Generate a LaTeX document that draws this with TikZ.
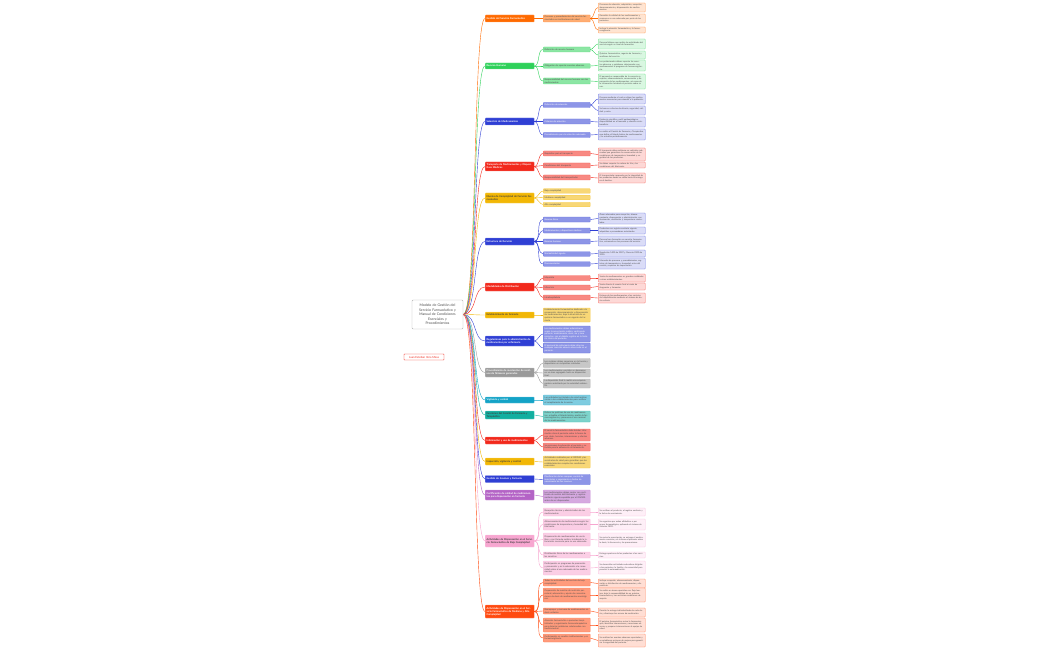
\documentclass[tikz,border=0pt]{standalone}
\usepackage{fontspec}
\setmainfont{Lato}
\usepackage{xcolor}
\definecolor{colorOrange}{HTML}{FF6A00}
\definecolor{colorGreen}{HTML}{2ED15A}
\definecolor{colorBlue}{HTML}{2F3FD4}
\definecolor{colorRed}{HTML}{F2291C}
\definecolor{colorGold}{HTML}{F2B705}
\definecolor{colorGray}{HTML}{9A9A9A}
\definecolor{colorCyan}{HTML}{14A3C7}
\definecolor{colorTeal}{HTML}{12AFA0}
\definecolor{colorPurple}{HTML}{B463C6}
\definecolor{colorPink}{HTML}{F7A6D0}
\definecolor{colorFlame}{HTML}{FF4A10}
\usepackage{tikz}
\tikzset{
  root/.style={draw=black!30, fill=white, rounded corners=1pt, align=center, text width=49pt, inner xsep=1pt, minimum height=29pt, text=black!70, font=\fontsize{3.5}{4.5}\selectfont},
  tag/.style={draw=colorRed, fill=white, text=colorRed, rounded corners=0.5pt, minimum width=40pt, minimum height=6pt, inner sep=0.5pt, font=\fontsize{2.8}{3.2}\selectfont},
  topic/.style={anchor=west, fill=#1, draw=#1!60, line width=0.3pt, rounded corners=0.6pt, text width=46pt, inner xsep=1.5pt, inner ysep=0.6pt, align=left, text=white, font=\fontsize{2.5}{3}\selectfont\bfseries},
  sub/.style={anchor=west, fill=#1!55, draw=#1!75, line width=0.3pt, rounded corners=0.6pt, text width=44pt, inner xsep=1.5pt, inner ysep=0.6pt, align=left, text=black!70, font=\fontsize{2.2}{2.6}\selectfont},
  leaf/.style={sub=#1, fill=#1!18, font=\fontsize{2.1}{2.5}\selectfont},
  link/.style={draw=#1, line width=0.4pt},
  twig/.style={out=0, in=180, looseness=0.8},
}
\begin{document}
\begin{tikzpicture}[x=1pt, y=-1pt]
\useasboundingbox (0,0) rectangle (1050,650);

\node[root] (r) at (437.5,314.5) {Modelo de Gestión del\\Servicio Farmacéutico y\\Manual de Condiciones\\Esenciales y\\Procedimientos};
\node[tag] (who) at (424,357) {Juan Esteban Vera Mesa};

% Gestion del servicio
\node[topic=colorOrange, minimum height=7pt] (b1) at (485,18.5) {Gestión del Servicio Farmacéutico};
\node[sub=colorOrange, minimum height=7pt] (b1c1) at (543,18.5) {Procesos y procedimientos del servicio farmacéutico en instituciones de salud};
\node[leaf=colorOrange, minimum height=9pt] (b1g1) at (598,7.5) {Procesos de selección, adquisición, recepción, almacenamiento y dispensación de medicamentos.};
\node[leaf=colorOrange, minimum height=9pt] (b1g2) at (598,18.5) {Garantiza la calidad de los medicamentos y promueve su uso adecuado por parte de los pacientes.};
\node[leaf=colorOrange, minimum height=6pt] (b1g3) at (598,30) {Incluye la atención farmacéutica y la farmacovigilancia.};

% Recurso humano
\node[topic=colorGreen, minimum height=6pt] (b2) at (485,66) {Recurso Humano};
\node[sub=colorGreen, minimum height=5pt] (b2c1) at (543,49.5) {Definición de recurso humano};
\node[sub=colorGreen, minimum height=4.5pt] (b2c2) at (543,66) {Obligación de reportar eventos adversos};
\node[sub=colorGreen, minimum height=6pt] (b2c3) at (543,81) {Responsabilidad del recurso humano con los medicamentos};
\node[leaf=colorGreen, minimum height=10pt] (b2g1) at (598,44) {Personal idóneo que realiza las actividades del servicio según su nivel de formación.};
\node[leaf=colorGreen, minimum height=8pt] (b2g2) at (598,55) {Químico farmacéutico, regente de farmacia y auxiliares del servicio.};
\node[leaf=colorGreen, minimum height=11pt] (b2g3) at (598,65.5) {Los profesionales deben reportar los eventos adversos y problemas relacionados con medicamentos al programa de farmacovigilancia.};
\node[leaf=colorGreen, minimum height=15pt] (b2g4) at (598,81.5) {El personal es responsable de la correcta recepción, almacenamiento, conservación y dispensación de los medicamentos, así como de la información brindada al paciente sobre su uso.};

% Seleccion
\node[topic=colorBlue, minimum height=7pt] (b3) at (485,121.5) {Selección de Medicamentos};
\node[sub=colorBlue, text=white, minimum height=5pt] (b3c1) at (543,105) {Definición de selección};
\node[sub=colorBlue, text=white, minimum height=5pt] (b3c2) at (543,121.5) {Criterios de selección};
\node[sub=colorBlue, text=white, minimum height=5pt] (b3c3) at (543,135) {Procedimiento para la selección adecuada};
\node[leaf=colorBlue, minimum height=10pt] (b3g1) at (598,99) {Proceso mediante el cual se eligen los medicamentos necesarios para atender a la población.};
\node[leaf=colorBlue, minimum height=9pt] (b3g2) at (598,110.5) {Se basa en criterios de eficacia, seguridad, calidad y costo.};
\node[leaf=colorBlue, minimum height=10pt] (b3g3) at (598,122) {Evidencia científica, perfil epidemiológico, disponibilidad en el mercado y relación costo-beneficio.};
\node[leaf=colorBlue, minimum height=11pt] (b3g4) at (598,134.5) {Lo realiza el Comité de Farmacia y Terapéutica, que define el listado básico de medicamentos y lo actualiza periódicamente.};

% Transporte
\node[topic=colorRed, minimum height=9pt] (b4) at (485,166.5) {Transporte de Medicamentos y Dispositivos Médicos};
\node[sub=colorRed, minimum height=5pt] (b4c1) at (543,153.5) {Requisitos para el transporte};
\node[sub=colorRed, minimum height=5pt] (b4c2) at (543,165.5) {Condiciones del transporte};
\node[sub=colorRed, minimum height=5pt] (b4c3) at (543,177.5) {Responsabilidad del transportador};
\node[leaf=colorRed, minimum height=13pt] (b4g1) at (598,154.5) {El transporte debe realizarse en vehículos adecuados que garanticen la conservación de las condiciones de temperatura, humedad y seguridad de los productos.};
\node[leaf=colorRed, minimum height=6pt] (b4g2) at (598,165) {Se deben respetar la cadena de frío y las condiciones del fabricante.};
\node[leaf=colorRed, minimum height=10pt] (b4g3) at (598,178) {El transportador responde por la integridad de los productos desde su salida hasta la entrega en el destino.};

% Niveles de complejidad
\node[topic=colorGold, text=black!75, minimum height=10pt] (b5) at (485,198) {Niveles de Complejidad del Servicio Farmacéutico};
\node[sub=colorGold, minimum height=4.5pt] (b5c1) at (543,191) {Baja complejidad};
\node[sub=colorGold, minimum height=4.5pt] (b5c2) at (543,197.5) {Mediana complejidad};
\node[sub=colorGold, minimum height=4.5pt] (b5c3) at (543,204.5) {Alta complejidad};

% Estructura
\node[topic=colorBlue, minimum height=7pt] (b6) at (485,241.5) {Estructura del Servicio};
\node[sub=colorBlue, text=white, minimum height=5pt] (b6c1) at (543,219.5) {Recurso físico};
\node[sub=colorBlue, text=white, minimum height=5pt] (b6c2) at (543,230.5) {Medicamentos y dispositivos médicos};
\node[sub=colorBlue, text=white, minimum height=5pt] (b6c3) at (543,241.5) {Recurso humano};
\node[sub=colorBlue, text=white, minimum height=4.5pt] (b6c4) at (543,254) {Normatividad vigente};
\node[sub=colorBlue, text=white, minimum height=4.5pt] (b6c5) at (543,264) {Documentación};
\node[leaf=colorBlue, minimum height=11pt] (b6g1) at (598,218.5) {Áreas adecuadas para recepción, almacenamiento, dispensación y administración, con iluminación, ventilación y temperatura controladas.};
\node[leaf=colorBlue, minimum height=7pt] (b6g2) at (598,230.5) {Productos con registro sanitario vigente, adquiridos a proveedores autorizados.};
\node[leaf=colorBlue, minimum height=10pt] (b6g3) at (598,241) {Personal con formación en servicio farmacéutico, entrenado en los procesos del servicio.};
\node[leaf=colorBlue, minimum height=7pt] (b6g4) at (598,253.5) {Resolución 1403 de 2007 y Decreto 2200 de 2005.};
\node[leaf=colorBlue, minimum height=11pt] (b6g5) at (598,263.5) {Manuales de procesos y procedimientos, registros de temperatura y humedad, actas del comité y soportes de capacitación.};

% Distribucion
\node[topic=colorRed, minimum height=8pt] (b7) at (485,287) {Modalidades de Distribución};
\node[sub=colorRed, minimum height=5pt] (b7c1) at (543,278) {Mayorista};
\node[sub=colorRed, minimum height=5pt] (b7c2) at (543,287.5) {Minorista};
\node[sub=colorRed, minimum height=5pt] (b7c3) at (543,297.5) {Intrahospitalaria};
\node[leaf=colorRed, minimum height=8pt] (b7g1) at (598,278) {Venta de medicamentos en grandes cantidades a otros establecimientos.};
\node[leaf=colorRed, minimum height=7pt] (b7g2) at (598,286.5) {Venta directa al usuario final a través de droguerías y farmacias.};
\node[leaf=colorRed, minimum height=10pt] (b7g3) at (598,298) {Entrega de los medicamentos a los servicios de hospitalización mediante el sistema de dosis unitaria.};

% Farmacia
\node[topic=colorGold, text=black!75, minimum height=6pt] (b8) at (485,315) {Establecimiento de farmacia};
\node[sub=colorGold, minimum height=14pt] (b8c1) at (543,315) {Establecimiento farmacéutico dedicado a la preparación, almacenamiento y dispensación de medicamentos, bajo la dirección de un químico farmacéutico o un regente de farmacia.};

% Administracion
\node[topic=colorBlue, minimum height=10pt] (b9) at (485,341) {Regulaciones para la administración de medicamentos por enfermería};
\node[sub=colorBlue, text=white, minimum height=16pt] (b9c1) at (543,334) {Los medicamentos deben administrarse según la prescripción médica, verificando paciente, medicamento, dosis, vía y hora correctos, con el debido registro en la historia clínica del paciente.};
\node[sub=colorBlue, text=white, minimum height=10pt] (b9c2) at (543,348) {El personal de enfermería debe informar cualquier reacción adversa observada en el paciente.};

% Residuos
\node[topic=colorGray, minimum height=9pt] (b10) at (485,372.5) {Procedimiento de recolección de residuos de fármacos generados};
\node[sub=colorGray, minimum height=9pt] (b10c1) at (543,363) {Los residuos deben separarse en la fuente y depositarse en recipientes rotulados.};
\node[sub=colorGray, minimum height=8pt] (b10c2) at (543,373) {Los medicamentos vencidos se almacenan en un área segregada hasta su disposición final.};
\node[sub=colorGray, minimum height=9pt] (b10c3) at (543,383.5) {La disposición final la realiza una empresa gestora autorizada por la autoridad ambiental.};

% Vigilancia
\node[topic=colorCyan, minimum height=6pt] (b11) at (485,400) {Vigilancia y control};
\node[sub=colorCyan, minimum height=10pt] (b11c1) at (543,400) {Las entidades territoriales de salud realizan visitas a los establecimientos para verificar el cumplimiento de la norma.};

% Comite
\node[topic=colorTeal, text=black!75, minimum height=8pt] (b12) at (485,415) {Funciones del Comité de Farmacia y Terapéutica};
\node[sub=colorTeal, minimum height=11pt] (b12c1) at (543,416.5) {Define las políticas de uso de medicamentos, actualiza el listado básico, analiza la farmacovigilancia y promueve el uso racional de los medicamentos.};

% Informacion
\node[topic=colorRed, minimum height=7pt] (b13) at (485,440.5) {Información y uso de medicamentos};
\node[sub=colorRed, minimum height=12pt] (b13c1) at (543,435) {El servicio farmacéutico debe brindar información clara al paciente sobre la forma de uso, dosis, horarios, interacciones y efectos adversos.};
\node[sub=colorRed, minimum height=8pt] (b13c2) at (543,447) {Se promueve la educación al paciente y su familia para la adherencia al tratamiento.};

% Inspeccion
\node[topic=colorGold, text=black!75, minimum height=7pt] (b14) at (485,461.5) {Inspección, vigilancia y control};
\node[sub=colorGold, minimum height=12pt] (b14c1) at (543,462) {Actividades realizadas por el INVIMA y las secretarías de salud para garantizar que los establecimientos cumplan las condiciones esenciales.};

% Insumos
\node[topic=colorBlue, minimum height=7pt] (b15) at (485,479) {Gestión de Insumos y Farmacia};
\node[sub=colorBlue, text=white, minimum height=10pt] (b15c1) at (543,479.5) {Planificación de las compras, control de inventarios y seguimiento a fechas de vencimiento de los insumos.};

% Certificacion
\node[topic=colorPurple, minimum height=10pt] (b16) at (485,495) {Certificación de calidad de medicamentos para dispensación en farmacia};
\node[sub=colorPurple, minimum height=13pt] (b16c1) at (543,496.5) {Los medicamentos deben contar con certificado de análisis del fabricante y registro sanitario vigente expedido por el INVIMA antes de ser dispensados.};

% Baja complejidad
\node[topic=colorPink, text=black!75, minimum height=12pt] (b17) at (485,541) {Actividades de Dispensación en el Servicio Farmacéutico de Baja Complejidad};
\node[sub=colorPink, minimum height=8pt] (b17c1) at (543,512) {Recepción técnica y administrativa de los medicamentos.};
\node[sub=colorPink, minimum height=11pt] (b17c2) at (543,524.5) {Almacenamiento de medicamentos según las condiciones de temperatura y humedad del fabricante.};
\node[sub=colorPink, minimum height=13pt] (b17c3) at (543,539.5) {Dispensación de medicamentos de venta libre y con fórmula médica, brindando la información necesaria para su uso adecuado.};
\node[sub=colorPink, minimum height=6pt] (b17c4) at (543,555) {Distribución física de los medicamentos a los servicios.};
\node[sub=colorPink, minimum height=14pt] (b17c5) at (543,568) {Participación en programas de promoción y prevención y en la educación a la comunidad sobre el uso adecuado de los medicamentos.};
\node[leaf=colorPink, minimum height=8pt] (b17g1) at (598,512) {Se verifican el producto, el registro sanitario y la fecha de vencimiento.};
\node[leaf=colorPink, minimum height=11pt] (b17g2) at (598,524.5) {Se organizan por orden alfabético o por grupo farmacológico, aplicando el sistema de rotación FEFO.};
\node[leaf=colorPink, minimum height=14pt] (b17g3) at (598,540) {Se revisa la prescripción, se entrega el medicamento correcto y se informa al paciente sobre la dosis, la frecuencia y las precauciones.};
\node[leaf=colorPink, minimum height=6pt] (b17g4) at (598,555) {Entrega oportuna de los productos a los servicios.};
\node[leaf=colorPink, minimum height=13pt] (b17g5) at (598,567.5) {Se desarrollan actividades educativas dirigidas a los pacientes, la familia y la comunidad para prevenir la automedicación.};

% Mediana y alta complejidad
\node[topic=colorFlame, minimum height=13pt] (b18) at (485,611.5) {Actividades de Dispensación en el Servicio Farmacéutico de Mediana y Alta Complejidad};
\node[sub=colorFlame, minimum height=7pt] (b18c1) at (543,582.5) {Todas las actividades del servicio de baja complejidad.};
\node[sub=colorFlame, minimum height=14pt] (b18c2) at (543,595) {Preparación de mezclas de nutrición parenteral, adecuación y ajuste de concentraciones de dosis de medicamentos oncológicos.};
\node[sub=colorFlame, minimum height=6pt] (b18c3) at (543,611) {Reempaque y reenvase de medicamentos en dosis unitarias.};
\node[sub=colorFlame, minimum height=14pt] (b18c4) at (543,625) {Atención farmacéutica a pacientes hospitalizados y seguimiento farmacoterapéutico para detectar problemas relacionados con medicamentos.};
\node[sub=colorFlame, minimum height=8pt] (b18c5) at (543,638) {Participación en comités institucionales y en farmacovigilancia.};
\node[leaf=colorFlame, minimum height=9pt] (b18g1) at (598,583.5) {Incluye recepción, almacenamiento, dispensación y distribución de medicamentos y dispositivos.};
\node[leaf=colorFlame, minimum height=14pt] (b18g2) at (598,595) {Se realiza en áreas especiales con flujo laminar, bajo la responsabilidad de un químico farmacéutico y con estrictas condiciones de asepsia.};
\node[leaf=colorFlame, minimum height=9pt] (b18g3) at (598,612.5) {Permite la entrega individualizada de cada dosis y disminuye los errores de medicación.};
\node[leaf=colorFlame, minimum height=14pt] (b18g4) at (598,625) {El químico farmacéutico revisa la farmacoterapia, identifica interacciones y reacciones adversas y propone intervenciones al equipo de salud.};
\node[leaf=colorFlame, minimum height=13pt] (b18g5) at (598,640.5) {Se analizan los eventos adversos reportados y se establecen acciones de mejora para garantizar la seguridad del paciente.};

% root links
\draw[link=colorOrange] (r.east) .. controls +(14,0) and +(-12,0) .. (b1.west);
\draw[link=colorGreen] (r.east) .. controls +(14,0) and +(-12,0) .. (b2.west);
\draw[link=colorBlue] (r.east) .. controls +(14,0) and +(-12,0) .. (b3.west);
\draw[link=colorRed] (r.east) .. controls +(14,0) and +(-12,0) .. (b4.west);
\draw[link=colorGold] (r.east) .. controls +(14,0) and +(-12,0) .. (b5.west);
\draw[link=colorBlue] (r.east) .. controls +(14,0) and +(-12,0) .. (b6.west);
\draw[link=colorRed] (r.east) .. controls +(14,0) and +(-12,0) .. (b7.west);
\draw[link=colorGold] (r.east) .. controls +(14,0) and +(-12,0) .. (b8.west);
\draw[link=colorBlue] (r.east) .. controls +(14,0) and +(-12,0) .. (b9.west);
\draw[link=colorGray] (r.east) .. controls +(14,0) and +(-12,0) .. (b10.west);
\draw[link=colorCyan] (r.east) .. controls +(14,0) and +(-12,0) .. (b11.west);
\draw[link=colorTeal] (r.east) .. controls +(14,0) and +(-12,0) .. (b12.west);
\draw[link=colorRed] (r.east) .. controls +(14,0) and +(-12,0) .. (b13.west);
\draw[link=colorGold] (r.east) .. controls +(14,0) and +(-12,0) .. (b14.west);
\draw[link=colorBlue] (r.east) .. controls +(14,0) and +(-12,0) .. (b15.west);
\draw[link=colorPurple] (r.east) .. controls +(14,0) and +(-12,0) .. (b16.west);
\draw[link=colorPink] (r.east) .. controls +(14,0) and +(-12,0) .. (b17.west);
\draw[link=colorFlame] (r.east) .. controls +(14,0) and +(-12,0) .. (b18.west);

% branch links
\draw[link=colorOrange] (b1) edge[twig] (b1c1) (b1c1) edge[twig] (b1g1) edge[twig] (b1g2) edge[twig] (b1g3);
\draw[link=colorGreen] (b2) edge[twig] (b2c1) edge[twig] (b2c2) edge[twig] (b2c3)
  (b2c1) edge[twig] (b2g1) edge[twig] (b2g2) (b2c2) edge[twig] (b2g3) (b2c3) edge[twig] (b2g4);
\draw[link=colorBlue] (b3) edge[twig] (b3c1) edge[twig] (b3c2) edge[twig] (b3c3)
  (b3c1) edge[twig] (b3g1) edge[twig] (b3g2) (b3c2) edge[twig] (b3g3) (b3c3) edge[twig] (b3g4);
\draw[link=colorRed] (b4) edge[twig] (b4c1) edge[twig] (b4c2) edge[twig] (b4c3)
  (b4c1) edge[twig] (b4g1) (b4c2) edge[twig] (b4g2) (b4c3) edge[twig] (b4g3);
\draw[link=colorGold] (b5) edge[twig] (b5c1) edge[twig] (b5c2) edge[twig] (b5c3);
\draw[link=colorBlue] (b6) edge[twig] (b6c1) edge[twig] (b6c2) edge[twig] (b6c3) edge[twig] (b6c4) edge[twig] (b6c5)
  (b6c1) edge[twig] (b6g1) (b6c2) edge[twig] (b6g2) (b6c3) edge[twig] (b6g3) (b6c4) edge[twig] (b6g4) (b6c5) edge[twig] (b6g5);
\draw[link=colorRed] (b7) edge[twig] (b7c1) edge[twig] (b7c2) edge[twig] (b7c3)
  (b7c1) edge[twig] (b7g1) (b7c2) edge[twig] (b7g2) (b7c3) edge[twig] (b7g3);
\draw[link=colorGold] (b8) edge[twig] (b8c1);
\draw[link=colorBlue] (b9) edge[twig] (b9c1) edge[twig] (b9c2);
\draw[link=colorGray] (b10) edge[twig] (b10c1) edge[twig] (b10c2) edge[twig] (b10c3);
\draw[link=colorCyan] (b11) edge[twig] (b11c1);
\draw[link=colorTeal] (b12) edge[twig] (b12c1);
\draw[link=colorRed] (b13) edge[twig] (b13c1) edge[twig] (b13c2);
\draw[link=colorGold] (b14) edge[twig] (b14c1);
\draw[link=colorBlue] (b15) edge[twig] (b15c1);
\draw[link=colorPurple] (b16) edge[twig] (b16c1);
\draw[link=colorPink] (b17) edge[twig] (b17c1) edge[twig] (b17c2) edge[twig] (b17c3) edge[twig] (b17c4) edge[twig] (b17c5)
  (b17c1) edge[twig] (b17g1) (b17c2) edge[twig] (b17g2) (b17c3) edge[twig] (b17g3) (b17c4) edge[twig] (b17g4) (b17c5) edge[twig] (b17g5);
\draw[link=colorFlame] (b18) edge[twig] (b18c1) edge[twig] (b18c2) edge[twig] (b18c3) edge[twig] (b18c4) edge[twig] (b18c5)
  (b18c1) edge[twig] (b18g1) (b18c2) edge[twig] (b18g2) (b18c3) edge[twig] (b18g3) (b18c4) edge[twig] (b18g4) (b18c5) edge[twig] (b18g5);
\end{tikzpicture}
\end{document}
